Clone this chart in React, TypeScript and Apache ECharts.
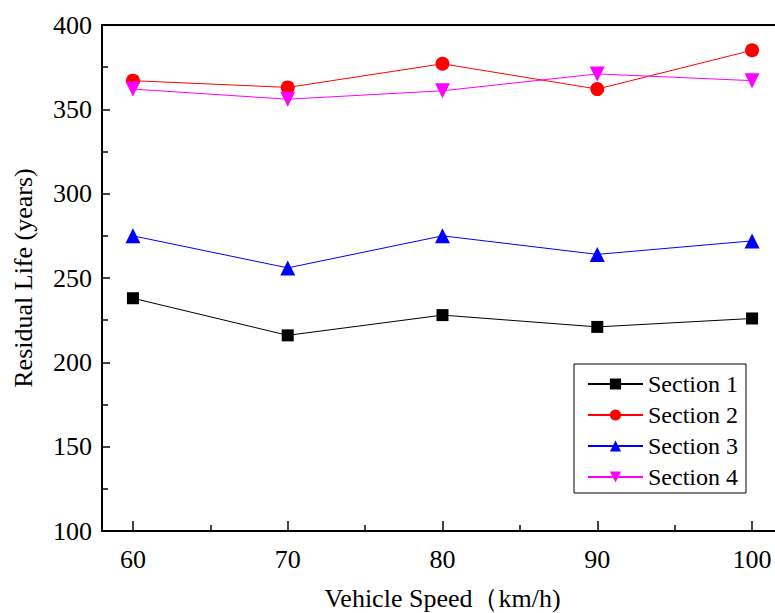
import React, { useEffect, useRef } from "react";
import * as echarts from "echarts";

const speeds = [60, 70, 80, 90, 100];
const minorSpeeds = [65, 75, 85, 95];
const section1 = [238, 216, 228, 221, 226];
const section2 = [367, 363, 377, 362, 385];
const section3 = [275, 256, 275, 264, 272];
const section4 = [362, 356, 361, 371, 367];

const seriesDefs = [
  { name: "Section 1", data: section1, color: "#000000", symbol: "rect", size: 12 },
  { name: "Section 2", data: section2, color: "#ff0000", symbol: "circle", size: 14 },
  { name: "Section 3", data: section3, color: "#0000ff", symbol: "triangle", size: 15 },
  { name: "Section 4", data: section4, color: "#ff00ff", symbol: "path://M0,0 L10,0 L5,9 Z", size: 15 },
];

const FONT = "'Liberation Serif', 'Times New Roman', serif";

export default function App() {
  const ref = useRef<HTMLDivElement>(null);
  useEffect(() => {
    if (!ref.current) return;
    const chart = echarts.init(ref.current, undefined, { renderer: "svg" });
    chart.setOption({
      animation: false,
      backgroundColor: "#ffffff",
      grid: {
        left: 102,
        top: 25,
        width: 681,
        bottom: 82,
        containLabel: false,
        outerBoundsMode: "none",
        show: true,
        borderColor: "#000",
        borderWidth: 2,
      },
      legend: {
        orient: "vertical",
        left: 574,
        top: 364,
        itemWidth: 55,
        itemHeight: 14,
        itemGap: 7,
        padding: [8, 8, 4, 13],
        borderColor: "#000",
        borderWidth: 1,
        backgroundColor: "#fff",
        textStyle: { fontFamily: FONT, fontSize: 24, color: "#000" },
        data: seriesDefs.map((s) => s.name),
      },
      xAxis: [
        {
          type: "value",
          min: 58,
          max: 102,
          name: "Vehicle Speed（km/h)",
          nameLocation: "middle",
          nameGap: 54,
          nameTextStyle: { fontFamily: FONT, fontSize: 26, color: "#000" },
          axisLine: { onZero: false, lineStyle: { color: "#000", width: 2 } },
          axisTick: {
            inside: true,
            length: 10,
            customValues: speeds,
            lineStyle: { color: "#000", width: 1.5 },
          },
          splitLine: { show: false },
          axisLabel: {
            fontFamily: FONT,
            fontSize: 26,
            color: "#000",
            margin: 15,
            customValues: speeds,
          },
        },
        {
          type: "value",
          min: 58,
          max: 102,
          position: "bottom",
          axisLine: { show: false, onZero: false },
          axisTick: {
            inside: true,
            length: 6,
            customValues: minorSpeeds,
            lineStyle: { color: "#000", width: 1.5 },
          },
          axisLabel: { show: false },
          splitLine: { show: false },
        },
      ],
      yAxis: {
        type: "value",
        min: 100,
        max: 400,
        interval: 50,
        name: "Residual Life (years)",
        nameLocation: "middle",
        nameGap: 66,
        nameTextStyle: { fontFamily: FONT, fontSize: 26, color: "#000" },
        axisLine: { onZero: false, lineStyle: { color: "#000", width: 2 } },
        axisTick: { inside: true, length: 8, lineStyle: { color: "#000", width: 1.5 } },
        minorTick: { show: true, splitNumber: 2, length: 6, lineStyle: { color: "#000", width: 1.5 } },
        splitLine: { show: false },
        axisLabel: { fontFamily: FONT, fontSize: 26, color: "#000", margin: 10 },
      },
      series: seriesDefs.map((s) => ({
        name: s.name,
        type: "line",
        xAxisIndex: 0,
        data: speeds.map((x, i) => [x, s.data[i]]),
        symbol: s.symbol,
        symbolSize: s.size,
        showAllSymbol: true,
        lineStyle: { color: s.color, width: 1 },
        itemStyle: { color: s.color },
        z: 3,
      })),
    });
    return () => chart.dispose();
  }, []);
  return <div ref={ref} style={{ width: 775, height: 613, position: "absolute", left: 0, top: 0 }} />;
}
